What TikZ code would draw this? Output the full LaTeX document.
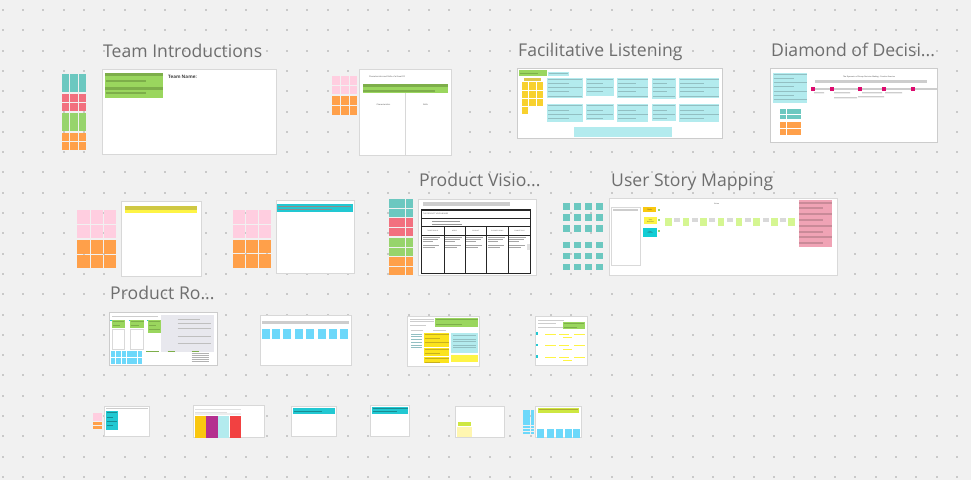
\documentclass[tikz,border=0pt]{standalone}
\usepackage{fontspec}
\setmainfont{Open Sans}
\definecolor{bg}{HTML}{F1F1F1}
\definecolor{dotgray}{HTML}{C9C9C9}
\definecolor{frameline}{HTML}{D8D8D8}
\definecolor{titlegray}{HTML}{6E6E6E}
\definecolor{stteal}{HTML}{6CC8C0}
\definecolor{stred}{HTML}{F2707F}
\definecolor{stgreen}{HTML}{97D46C}
\definecolor{storange}{HTML}{FFA04A}
\definecolor{stpink}{HTML}{FFCEE0}
\definecolor{styellow}{HTML}{F8D12E}
\definecolor{stblue}{HTML}{6DD8FA}
\definecolor{cardteal}{HTML}{B3EBEE}
\definecolor{stripeteal}{HTML}{92BFC2}
\definecolor{blockgreen}{HTML}{9AD65E}
\definecolor{stripegreen}{HTML}{7DAE4A}
\definecolor{barteal}{HTML}{22C8D2}
\definecolor{magenta}{HTML}{DC0A6E}
\definecolor{pinkblock}{HTML}{F0A3B5}
\definecolor{stripepink}{HTML}{C98A98}
\definecolor{lime}{HTML}{D5F692}
\definecolor{limebar}{HTML}{CEE741}
\definecolor{yellowpale}{HTML}{FFF6B0}
\definecolor{textgray}{HTML}{CDCDCD}
\definecolor{lemon}{HTML}{FEF445}
\definecolor{olivebar}{HTML}{CFC843}
\definecolor{goalsyellow}{HTML}{F9C80E}
\definecolor{storyteal}{HTML}{12CDD4}
\definecolor{panelgray}{HTML}{E8E8EE}
\definecolor{fyellow}{HTML}{FAC710}
\definecolor{fpurple}{HTML}{B4308F}
\definecolor{fred}{HTML}{F24141}

% grid of sticky notes: x, y, cols, rows, cell w, cell h, gap, colour
\newcommand{\sgrid}[8]{%
  \foreach \ii in {1,...,#3}{\foreach \jj in {1,...,#4}{%
    \fill[#8] ({#1+(\ii-1)*(#5+#7)},{#2+(\jj-1)*(#6+#7)}) rectangle ++(#5,#6);}}}
% striped card: x1, y1, x2, y2, fill, stripe
\newcommand{\scard}[6]{%
  \fill[#5] (#1,#2) rectangle (#3,#4);
  \pgfmathtruncatemacro{\nn}{(#4-#2-2)/4.2}
  \foreach \kk in {0,...,\nn}{%
    \pgfmathsetmacro{\yy}{#2+1.6+\kk*4.2}
    \ifodd\kk
      \draw[#6,line width=1.1] (#1+0.8,\yy) -- ({#1+0.62*(#3-#1)},\yy);
    \else
      \draw[#6,line width=1.1] (#1+0.8,\yy) -- (#3-0.8,\yy);
    \fi}}

\begin{document}
\begin{tikzpicture}[x=1pt,y=-1pt,
  frm/.style={draw=frameline,fill=white,line width=0.7},
  ttl/.style={anchor=base west,inner sep=0,text=titlegray,font=\fontsize{17.6}{17.6}\selectfont},
  tiny/.style={inner sep=0,text=black!75,font=\fontsize{3}{3.4}\selectfont},
  txtline/.style={textgray,line width=1.2}]
\useasboundingbox[fill=bg] (0,0) rectangle (971,480);
% ---- dot grid
\foreach \i in {0,...,47}{\foreach \j in {0,...,23}{%
  \fill[dotgray] ({1.7+20.3*\i},{9+20.3*\j}) rectangle ++(2,2);}}

% ---- titles
\node[ttl] (tTeam) at (103,57) {Team Introductions};
\node[ttl] (tListen) at (518,56) {Facilitative Listening};
\node[ttl] (tDiamond) at (771,56) {Diamond of Decisi...};
\node[ttl] (tVision) at (419,186.5) {Product Visio...};
\node[ttl] (tStory) at (611,186) {User Story Mapping};
\node[ttl] (tRoad) at (110,299.5) {Product Ro...};

% ---- team introductions
\sgrid{61.7}{74.3}{3}{2}{7.6}{8.3}{0.8}{stteal}
\sgrid{61.7}{93.5}{3}{2}{7.6}{8.3}{0.8}{stred}
\sgrid{61.7}{113.2}{3}{2}{7.6}{8.3}{0.8}{stgreen}
\sgrid{61.7}{132.7}{3}{2}{7.6}{8.3}{0.8}{storange}
\draw[frm] (102.7,69.3) rectangle (276.7,154.3);
\fill[blockgreen] (105,72.7) rectangle (162.7,97.7);
\draw[stripegreen,line width=2.4] (105,74.6) -- (162.7,74.6) (105,88.6) -- (162.7,88.6);
\draw[stripegreen,line width=2] (106,81.2) -- (146,81.2) (106,93) -- (146,93);
\node[tiny,anchor=west,font=\fontsize{4.6}{5}\bfseries\selectfont] (teamname) at (168,77.3) {Team Name:};

% ---- scrum PO board
\sgrid{332.3}{76}{3}{2}{7.8}{8.7}{0.8}{stpink}
\sgrid{332.3}{96}{3}{2}{7.8}{9}{0.8}{storange}
\draw[frm] (359.3,69) rectangle (451.7,155.3);
\node[tiny,anchor=west,font=\fontsize{2}{2.4}\selectfont] (poTitle) at (369,77) {Characteristics and Skills of a Great PO};
\fill[blockgreen] (362.7,83.7) rectangle (448,93.3);
\fill[stripegreen] (362.7,83.7) rectangle (448,87.2);
\fill[stripegreen] (362.7,90) rectangle (435,92.2);
\draw[frameline,line width=0.6] (405.7,93.3) -- (405.7,155.3);
\node[tiny,font=\fontsize{2}{2.4}\selectfont] (poChar) at (383.5,105) {Characteristics};
\node[tiny,font=\fontsize{2}{2.4}\selectfont] (poSkill) at (425.5,105) {Skills};

% ---- facilitative listening
\draw[frm,draw=black!20,line width=1] (517.7,68.3) rectangle (722.3,138.3);
\fill[blockgreen] (518.7,70.3) rectangle (546.7,75.8);
\draw[stripegreen,line width=1] (519.5,73.8) -- (538,73.8);
\scard{548}{71.5}{569}{76}{cardteal}{stripeteal}
\fill[styellow!70!olive!80] (524,78) rectangle (540.7,81);
\sgrid{521.7}{82.3}{3}{3}{6.6}{7.4}{0.8}{styellow}
\fill[styellow] (521.7,106.9) rectangle ++(6.6,7.4);
\scard{547}{77.7}{583}{97.7}{cardteal}{stripeteal}
\scard{586}{77.7}{614}{95.7}{cardteal}{stripeteal}
\scard{617}{77.7}{648.3}{97.7}{cardteal}{stripeteal}
\scard{651.7}{77.7}{676}{98.7}{cardteal}{stripeteal}
\scard{678.7}{77.7}{719.3}{97.7}{cardteal}{stripeteal}
\scard{547}{104.3}{583}{122.3}{cardteal}{stripeteal}
\scard{586}{104.3}{614}{119.7}{cardteal}{stripeteal}
\scard{617}{104.3}{648.3}{122.3}{cardteal}{stripeteal}
\scard{651.7}{104.3}{676}{121.3}{cardteal}{stripeteal}
\scard{678.7}{104.3}{719.3}{122.3}{cardteal}{stripeteal}
\fill[cardteal] (574.3,126.7) rectangle (671.7,137);

% ---- diamond of decision
\draw[frm,draw=black!20,line width=1] (770,68.3) rectangle (937.7,142.3);
\scard{772.7}{72.7}{807.3}{103.3}{cardteal}{stripeteal}
\sgrid{780}{108.7}{3}{2}{6.3}{4.9}{0.9}{stteal}
\sgrid{780}{122}{3}{2}{6.3}{6}{0.9}{storange}
\node[tiny,font=\fontsize{1.9}{2.2}\selectfont] (dTitle) at (869,76.5) {The Dynamics of Group Decision Making - Practice Exercise};
\fill[textgray] (815,80) rectangle (926.7,82.7);
\draw[textgray,line width=1.3] (812,89) -- (937,89);
\foreach \x in {813.3,832,860.3,883.7,913.3}{\fill[magenta] (\x-2,87) rectangle ++(4,4);}
\fill[textgray] (814,92) rectangle (824,93.3) (834,92) rectangle (850,93.3)
  (834,97) rectangle (857,98.3) (862,92) rectangle (882,93.3)
  (858,96) rectangle (884,97.3) (885,92) rectangle (902,93.3);

% ---- row 2: two sticky boards
\sgrid{77.3}{210}{3}{2}{12.3}{13.7}{0.9}{stpink}
\sgrid{77.3}{240}{3}{2}{12.3}{13.7}{0.9}{storange}
\draw[frm] (121,201.7) rectangle (201,276.7);
\fill[lemon] (125,206) rectangle (196.7,213.3);
\fill[olivebar] (125,206) rectangle (196.7,209.6);
\sgrid{233.3}{210}{3}{2}{12.1}{13.7}{0.9}{stpink}
\sgrid{233.3}{240}{3}{2}{12.1}{13.3}{0.9}{storange}
\draw[frm] (276,200) rectangle (354,273.3);
\fill[barteal] (277,204) rectangle (353.3,211.7);
\draw[black!45,line width=0.5] (278,205.8) -- (351,205.8) (278,209.2) -- (332,209.2);

% ---- product vision
\sgrid{389}{199.3}{3}{2}{7.5}{8.6}{0.8}{stteal}
\sgrid{389}{218.3}{3}{2}{7.5}{8.4}{0.8}{stred}
\sgrid{389}{238.3}{3}{2}{7.5}{8.4}{0.8}{stgreen}
\sgrid{389}{257.3}{3}{2}{7.5}{8.5}{0.8}{storange}
\draw[frm] (418.3,199) rectangle (536,275);
\fill[textgray] (422.7,202.3) rectangle (510,205.7);
\draw[black!85,line width=1.1] (421.7,210) rectangle (530.7,273.3);
\draw[black!85,line width=0.9] (421.7,218.3) -- (530.7,218.3) (421.7,226.7) -- (530.7,226.7) (421.7,235) -- (530.7,235);
\foreach \x in {444,465,486.7,508.3}{\draw[black!85,line width=0.9] (\x,226.7) -- (\x,273.3);}
\node[tiny,anchor=west,font=\fontsize{1.8}{2}\selectfont] (pvTitle) at (423,214.2) {THE PRODUCT VISION BOARD};
\draw[black!40,line width=0.4] (432,221) -- (460,221) (432,224) -- (462,224);
\foreach \x/\t in {432.9/TARGET GROUP,454.5/NEEDS,475.9/PRODUCT,497.5/BUSINESS GOALS,519.5/COMPETITORS}{%
  \node[tiny,font=\fontsize{1.5}{1.7}\selectfont] at (\x,230.9) {\t};}
\foreach \x in {422.5,445,466,487.5,509.3}{%
  \draw[black!35,line width=0.35] (\x,237) -- ++(17,0) (\x,239) -- ++(15,0) (\x,241) -- ++(10,0) (\x,245) -- ++(16,0) (\x,247) -- ++(12,0);}
\fill[black!12] (526.5,244) rectangle (530,250);

% ---- user story mapping
\sgrid{563.3}{203.3}{4}{3}{6.4}{6.4}{4.6}{stteal}
\sgrid{563.3}{241.7}{4}{3}{6.4}{6.4}{4.6}{stteal}
\draw[frm,draw=black!15,line width=1] (609.3,198.3) rectangle (837.3,275);
\draw[black!15,fill=white,line width=0.8] (611,207.7) rectangle (640,265.7);
\fill[textgray] (613,209.4) rectangle (638,211);
\node[tiny,font=\fontsize{1.8}{2}\selectfont] (vision) at (716.7,203.7) {Vision};
\fill[goalsyellow] (643.3,207.3) rectangle (656,212.3);
\node[tiny,font=\fontsize{1.8}{2}\selectfont] (goals) at (649.6,209.8) {Goals};
\fill[lemon] (644,217.3) rectangle (657,224);
\node[tiny,align=center,font=\fontsize{1.6}{1.8}\selectfont] (acts) at (650.5,220.6) {User\\Activities};
\fill[storyteal] (643.3,228.3) rectangle (657.3,236.7);
\node[tiny,align=center,font=\fontsize{1.6}{1.8}\selectfont] (stories) at (650.3,232.5) {User\\Stories};
\foreach \y in {208.5,218.5,229.5}{\fill[stgreen] (658,\y) rectangle ++(2.2,2.2);}
\foreach \x in {665,682.7,700,717.7,735.7,753.3,771,788.3}{\fill[lime] (\x,218.3) rectangle ++(6.7,7.7);}
\foreach \x in {674,691.7,709.3,727.3,745,762.7,780}{\fill[black!15] (\x,218.3) rectangle ++(6,4);}
\fill[pinkblock] (799,200) rectangle (832,246.7);
\foreach \k in {0,...,7}{%
  \ifodd\k \draw[stripepink,line width=2] (799,{202.5+\k*5.8}) -- (823,{202.5+\k*5.8});
  \else \draw[stripepink,line width=2] (799,{202.5+\k*5.8}) -- (832,{202.5+\k*5.8}); \fi}

% ---- product roadmap
\draw[frm,draw=black!20,line width=1] (109.3,312.3) rectangle (217.3,365.7);
\fill[textgray] (111.7,315.7) rectangle (158.3,317.2);
\fill[panelgray] (160.7,315) rectangle (214,351.7);
\foreach \y/\l in {319/22,323.3/33,328.3/33,336/33,343.7/33}{\draw[black!25,line width=1] (177.7,\y) -- ++(\l,0);}
\foreach \x/\w in {111.7/13.3,130/14.3,148.3/12.4}{%
  \fill[barteal] (\x-1.5,319.5) rectangle ++(1.6,1.6);
  \scard{\x}{319.8}{\x+\w}{328.3}{blockgreen}{stripegreen}}
\scard{148.3}{328.3}{160.7}{332.7}{blockgreen}{stripegreen}
\draw[black!15,fill=white,line width=0.8] (112.3,329.5) rectangle (124.5,349) (130.6,329.5) rectangle (143.7,349);
\foreach \x in {110.7,116.1,121.5,126.9,132.3,137.7}{\fill[stblue] (\x,351) rectangle ++(4.6,13.2);}
\draw[white,line width=0.4] (110.7,357.6) -- (142.3,357.6);
\draw[stripegreen,line width=0.9] (146,351.7) -- (159,351.7) (167.7,351.7) -- (175,351.7) (191.7,351.7) -- (199,351.7);
\foreach \y in {353.5,355.5,357.5,359.5,361.5}{\draw[black!30,line width=0.4] (191.7,\y) -- ++(17,0);}

\draw[frm] (260,315.7) rectangle (351.7,365);
\fill[textgray] (262,321) rectangle (349.3,323.5);
\foreach \x in {261.7,272,283,295,306,317.7,329,340}{\fill[stblue] (\x,329.3) rectangle ++(8.3,9.7);}

\draw[frm] (407.7,316.7) rectangle (479,366);
\foreach \y/\l in {319/24,321.7/24,325/16}{\draw[textgray,line width=0.9] (410,\y) -- ++(\l,0);}
\scard{435}{318.3}{478.3}{326.7}{blockgreen}{stripegreen}
\draw[textgray,line width=1.2] (410.7,330.8) -- (423.3,330.8) (433.3,330.8) -- (446,330.8);
\foreach \y in {334,336.7,339.3,342.3,345,347.7}{\draw[stripeteal,line width=1] (411,\y) -- (422.3,\y);}
\scard{424.3}{332.7}{449.3}{347}{styellow!60!yellow}{styellow!60!olive}
\scard{424.3}{348}{449.3}{356}{styellow!60!yellow}{styellow!60!olive}
\scard{424.3}{357}{449.3}{363.3}{styellow!60!yellow}{styellow!60!olive}
\fill[cardteal] (451,332.7) rectangle (478.3,352.7);
\foreach \y in {335,339,341,345,347.5}{\draw[stripeteal,line width=0.5] (453,\y) -- (476,\y);}
\fill[lemon] (451,355) rectangle (478.3,361.7);

\draw[frm] (535,316.7) rectangle (587.7,365.7);
\foreach \y/\l in {320/26,323.3/18,327/26}{\draw[textgray,line width=0.9] (538,\y) -- ++(\l,0);}
\scard{562.7}{322}{585}{328.7}{blockgreen}{stripegreen}
\foreach \y in {333.3,344.7,356.3}{%
  \fill[barteal] (535.6,\y-1.2) rectangle ++(2.4,2.4);
  \draw[lemon,line width=0.9] (545,\y+0.7) -- (555.7,\y+0.7) (559.3,\y+0.7) -- (569.3,\y+0.7) (574.3,\y+0.7) -- (585,\y+0.7)
    (563.3,\y+4.3) -- (571.7,\y+4.3);}

% ---- row 4
\sgrid{92.7}{412.7}{3}{2}{2.8}{3.8}{0.5}{stpink}
\sgrid{92.7}{421.7}{3}{2}{2.8}{3.4}{0.5}{storange}
\draw[frm] (104.3,406) rectangle (149.3,436.7);
\fill[textgray] (106,407.7) rectangle (148,409.3);
\scard{105.7}{411.3}{118}{430}{barteal}{black!30!barteal}

\draw[frm] (193,405.7) rectangle (264,437.7);
\fill[black!12] (194.7,408.7) rectangle (241.3,410.3);
\fill[black!12] (194.7,411.6) rectangle (227,413.2);
\fill[black!7] (194.7,413.4) rectangle (241.3,415.4);
\fill[fyellow] (194.7,415.7) rectangle (206,437.7);
\fill[fpurple] (206.3,415.7) rectangle (217.7,437.7);
\fill[cardteal] (218,415.7) rectangle (229.3,437.7);
\fill[fred] (229.7,415.7) rectangle (241.3,437.7);

\draw[frm] (291,406.7) rectangle (336.7,436.7);
\fill[barteal] (292.7,407.7) rectangle (335.3,414);
\draw[black!30!barteal,line width=0.9] (293.5,411.5) -- (322,411.5);

\draw[frm] (370,405.7) rectangle (409.3,436.7);
\fill[barteal] (371.7,406.7) rectangle (408.3,414);
\draw[black!30!barteal,line width=0.9] (372.5,408) -- (407.5,408) (372.5,411) -- (397,411);

\draw[frm] (455,406.7) rectangle (504.3,437.7);
\fill[limebar] (457.7,422.3) rectangle (470.7,426);
\sgrid{456.7}{426.7}{3}{3}{4.8}{3.3}{0.4}{yellowpale}

\sgrid{523.3}{410}{3}{8}{3.2}{2.7}{0.4}{stblue}
\draw[frm] (535,406.7) rectangle (581.7,437.7);
\scard{537.7}{407.7}{579}{412.7}{limebar}{olive!70}
\foreach \x in {537.3,546.7,555.7,565,573}{\fill[stblue] (\x,429.3) rectangle ++(7,8.4);}
\end{tikzpicture}
\end{document}
